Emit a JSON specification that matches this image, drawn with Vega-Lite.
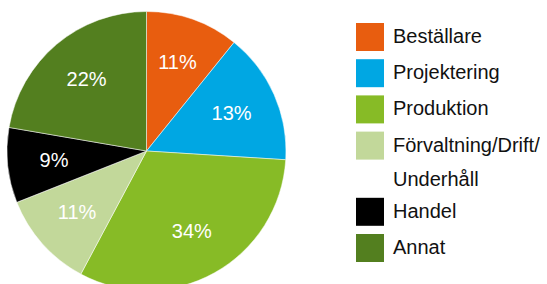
{
  "$schema": "https://vega.github.io/schema/vega-lite/v6.json",
  "width": 293,
  "height": 302,
  "autosize": {"type": "pad"},
  "padding": 0,
  "background": "white",
  "view": {"stroke": null},
  "config": {"style": {"guide-label": {"lineHeight": 34}}},
  "data": {"values": [
    {"kategori": "Beställare", "andel": 10.8, "etikett": "11%", "nr": 1},
    {"kategori": "Projektering", "andel": 15.2, "etikett": "13%", "nr": 2},
    {"kategori": "Produktion", "andel": 31.8, "etikett": "34%", "nr": 3},
    {"kategori": "Förvaltning/Drift/Underhåll", "andel": 11.2, "etikett": "11%", "nr": 4},
    {"kategori": "Handel", "andel": 8.7, "etikett": "9%", "nr": 5},
    {"kategori": "Annat", "andel": 22.3, "etikett": "22%", "nr": 6}
  ]},
  "encoding": {
    "theta": {"field": "andel", "type": "quantitative", "stack": true},
    "order": {"field": "nr", "type": "quantitative"}
  },
  "layer": [
    {
      "mark": {"type": "arc", "outerRadius": 139.5, "stroke": "#ffffff", "strokeWidth": 0.5},
      "encoding": {
        "color": {
          "field": "kategori",
          "type": "nominal",
          "scale": {
            "domain": ["Beställare", "Projektering", "Produktion", "Förvaltning/Drift/Underhåll", "Handel", "Annat"],
            "range": ["#E85D0F", "#00A7E3", "#87BB26", "#C2D89A", "#000000", "#537F1F"]
          },
          "legend": {
            "orient": "none",
            "legendX": 356,
            "legendY": 23,
            "padding": 0,
            "title": null,
            "symbolType": "square",
            "symbolSize": 784,
            "symbolStrokeWidth": 0,
            "symbolOpacity": 1,
            "labelFont": "Liberation Sans",
            "labelFontSize": 20,
            "labelColor": "#111111",
            "labelOffset": 9,
            "labelLimit": 300,
            "rowPadding": 8.2,
            "labelExpr": "datum.label == 'Förvaltning/Drift/Underhåll' ? ['Förvaltning/Drift/', 'Underhåll'] : datum.label"
          }
        }
      }
    },
    {
      "mark": {"type": "text", "radius": 93, "fill": "#ffffff", "fontSize": 20, "font": "Liberation Sans"},
      "encoding": {"text": {"field": "etikett", "type": "nominal"}}
    }
  ]
}
